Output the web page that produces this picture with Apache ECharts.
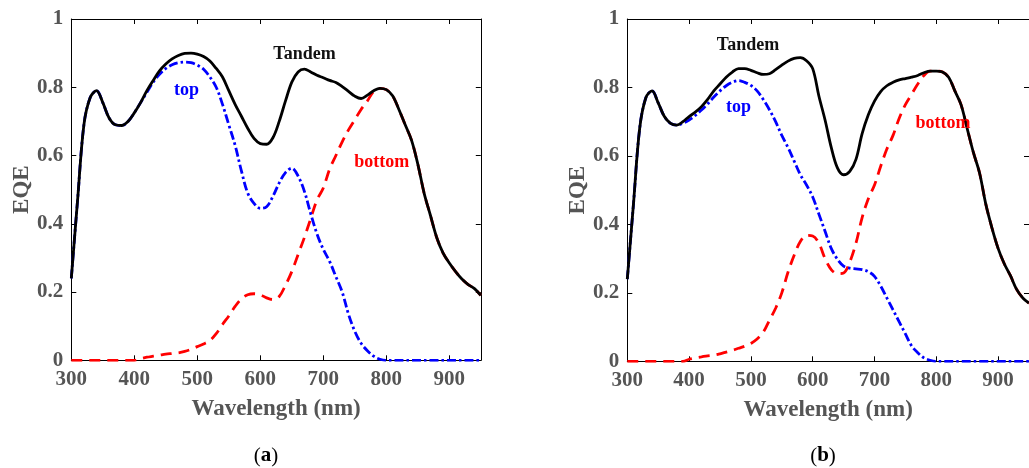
<!DOCTYPE html>
<html>
<head>
<meta charset="utf-8">
<script src="https://cdn.jsdelivr.net/npm/echarts@6/dist/echarts.min.js"></script>
<style>
  html, body { margin: 0; padding: 0; background: #fff; }
  #chart { width: 1029px; height: 468px; }
</style>
</head>
<body>
<div id="chart"></div>
<script>
// Wavelength grid (nm)
const wavelength = [300,310,320,330,340,350,360,370,380,390,400,410,420,430,440,450,460,470,480,490,
  500,510,520,530,540,550,560,570,580,590,600,610,620,630,640,650,660,670,680,690,
  700,710,720,730,740,750,760,770,780,790,800,810,820,830,840,850,860,870,880,890,
  900,910,920,930,940,950];

// Panel (a): EQE of tandem, top and bottom cells
const tandemA = [0.24,0.47,0.69,0.77,0.79,0.755,0.71,0.69,0.688,0.70,
  0.725,0.755,0.79,0.82,0.848,0.868,0.883,0.893,0.899,0.90,
  0.897,0.89,0.877,0.855,0.83,0.79,0.75,0.715,0.68,0.65,
  0.635,0.633,0.652,0.70,0.76,0.815,0.845,0.853,0.845,0.835,
  0.828,0.82,0.814,0.802,0.788,0.774,0.767,0.777,0.79,0.797,
  0.793,0.775,0.735,0.69,0.645,0.575,0.49,0.425,0.36,0.315,
  0.285,0.26,0.238,0.222,0.21,0.19];
const topA = [0.24,0.47,0.69,0.77,0.79,0.755,0.71,0.69,0.688,0.70,
  0.725,0.755,0.785,0.815,0.838,0.855,0.866,0.872,0.874,0.872,
  0.865,0.853,0.83,0.80,0.75,0.69,0.63,0.555,0.49,0.46,
  0.445,0.45,0.48,0.52,0.55,0.563,0.54,0.495,0.43,0.37,
  0.325,0.29,0.245,0.20,0.135,0.085,0.05,0.028,0.012,0.003,
  0,0,0,0,0,0,0,0,0,0,
  0,0,0,0,0,0];
const bottomA = [0,0,0,0,0,0,0,0,0,0,
  0,0.005,0.009,0.012,0.015,0.018,0.02,0.022,0.026,0.032,
  0.04,0.048,0.058,0.078,0.105,0.13,0.158,0.18,0.192,0.195,
  0.192,0.183,0.178,0.187,0.22,0.26,0.31,0.36,0.415,0.47,
  0.505,0.56,0.60,0.64,0.675,0.705,0.735,0.76,0.788,0.797,
  0.793,0.775,0.735,0.69,0.645,0.575,0.49,0.425,0.36,0.315,
  0.285,0.26,0.238,0.222,0.21,0.19];

// Panel (b)
const tandemB = [0.24,0.46,0.68,0.77,0.79,0.755,0.715,0.695,0.69,0.70,
  0.715,0.728,0.744,0.765,0.79,0.81,0.83,0.845,0.855,0.855,
  0.85,0.843,0.838,0.84,0.852,0.865,0.877,0.885,0.887,0.878,
  0.855,0.775,0.705,0.625,0.565,0.545,0.555,0.59,0.665,0.72,
  0.76,0.788,0.805,0.815,0.822,0.826,0.83,0.835,0.843,0.848,
  0.848,0.845,0.83,0.79,0.75,0.68,0.61,0.55,0.46,0.39,
  0.33,0.285,0.25,0.21,0.185,0.17];
const topB = [0.24,0.46,0.68,0.77,0.79,0.755,0.715,0.695,0.69,0.695,
  0.705,0.718,0.734,0.752,0.772,0.79,0.805,0.815,0.82,0.815,
  0.806,0.79,0.765,0.735,0.70,0.66,0.625,0.585,0.545,0.515,
  0.48,0.43,0.38,0.33,0.298,0.278,0.272,0.27,0.268,0.262,
  0.248,0.22,0.185,0.15,0.115,0.08,0.045,0.025,0.01,0.003,
  0,0,0,0,0,0,0,0,0,0,
  0,0,0,0,0,0];
const bottomB = [0,0,0,0,0,0,0,0,0,0,
  0.006,0.01,0.013,0.016,0.018,0.022,0.027,0.032,0.038,0.044,
  0.052,0.065,0.085,0.12,0.155,0.20,0.26,0.31,0.35,0.368,
  0.366,0.345,0.30,0.268,0.256,0.258,0.29,0.345,0.42,0.475,
  0.515,0.57,0.62,0.66,0.71,0.75,0.78,0.81,0.835,0.848,
  0.848,0.845,0.83,0.79,0.75,0.68,0.61,0.55,0.46,0.39,
  0.33,0.285,0.25,0.21,0.185,0.17];

const xTicks = { min: 300, max: 950, interval: 100 };
const yTicks = { min: 0, max: 1, interval: 0.2 };

const SERIF = '"Liberation Serif", "Times New Roman", serif';
const GRAY = '#555555';

function pairs(ys) { return wavelength.map((x, i) => [x, ys[i]]); }

const grids = [
  { left: 71.3, top: 19, width: 409.5, height: 341.3 },
  { left: 627.3, top: 19, width: 411.5, height: 342.3 }
];

const xAxes = [], yAxes = [], series = [];
grids.forEach((g, gi) => {
  const tick = { show: true, inside: true, length: 5, lineStyle: { color: '#000', width: 1 } };
  const line = { show: true, onZero: false, lineStyle: { color: '#000', width: 1 } };
  xAxes.push({
    type: 'value', gridIndex: gi, position: 'bottom',
    min: xTicks.min, max: xTicks.max, interval: xTicks.interval,
    axisLine: line, axisTick: tick, splitLine: { show: false },
    axisLabel: { show: true, showMaxLabel: false, margin: 9, color: GRAY,
      fontFamily: SERIF, fontWeight: 'bold', fontSize: 21 },
    name: 'Wavelength (nm)', nameLocation: 'middle', nameGap: 37,
    nameTextStyle: { color: GRAY, fontFamily: SERIF, fontWeight: 'bold', fontSize: 23 }
  });
  xAxes.push({
    type: 'value', gridIndex: gi, position: 'top',
    min: xTicks.min, max: xTicks.max, interval: xTicks.interval,
    axisLine: line, axisTick: tick, axisLabel: { show: false }, splitLine: { show: false }
  });
  yAxes.push({
    type: 'value', gridIndex: gi, position: 'left',
    min: yTicks.min, max: yTicks.max, interval: yTicks.interval,
    axisLine: line, axisTick: tick, splitLine: { show: false },
    axisLabel: { show: true, margin: 8, color: GRAY,
      fontFamily: SERIF, fontWeight: 'bold', fontSize: 21 },
    name: 'EQE', nameLocation: 'middle', nameGap: 38, nameRotate: 90,
    nameTextStyle: { color: GRAY, fontFamily: SERIF, fontWeight: 'bold', fontSize: 23 }
  });
  yAxes.push({
    type: 'value', gridIndex: gi, position: 'right',
    min: yTicks.min, max: yTicks.max, interval: yTicks.interval,
    axisLine: line, axisTick: tick, axisLabel: { show: false }, splitLine: { show: false }
  });
});

const panels = [
  { tandem: tandemA, top: topA, bottom: bottomA },
  { tandem: tandemB, top: topB, bottom: bottomB }
];
panels.forEach((p, gi) => {
  const common = { type: 'line', xAxisIndex: gi * 2, yAxisIndex: gi * 2,
    showSymbol: false, smooth: 0.35, silent: true };
  series.push(Object.assign({}, common, { name: 'bottom', data: pairs(p.bottom), z: 2,
    lineStyle: { color: '#ff0000', width: 2.8, type: [11, 7] } }));
  series.push(Object.assign({}, common, { name: 'top', data: pairs(p.top), z: 3,
    lineStyle: { color: '#0000ff', width: 2.8, type: [9, 3, 2.5, 3] } }));
  series.push(Object.assign({}, common, { name: 'Tandem', data: pairs(p.tandem), z: 4,
    lineStyle: { color: '#000000', width: 2.8 } }));
});

function label(text, x, y, color) {
  return { type: 'text', x: x, y: y, z: 10,
    style: { text: text, fill: color, font: 'bold 18px ' + SERIF,
      textAlign: 'center', textVerticalAlign: 'middle' } };
}
function caption(letter, x, y) {
  return { type: 'text', x: x, y: y, z: 10,
    style: { text: '(' + '{b|' + letter + '})', fill: '#000',
      font: '21px ' + SERIF, textAlign: 'center', textVerticalAlign: 'middle',
      rich: { b: { fontWeight: 'bold', fontSize: 21, fontFamily: SERIF, fill: '#000' } } } };
}

const chart = echarts.init(document.getElementById('chart'), null, { renderer: 'canvas' });
chart.setOption({
  animation: false,
  backgroundColor: '#ffffff',
  grid: grids,
  xAxis: xAxes,
  yAxis: yAxes,
  series: series,
  graphic: [
    label('Tandem', 304.5, 54, '#111'),
    label('top', 186.5, 90, '#0000ff'),
    label('bottom', 381.7, 162, '#ff0000'),
    label('Tandem', 748, 45, '#111'),
    label('top', 738.5, 107, '#0000ff'),
    label('bottom', 943, 123, '#ff0000'),
    caption('a', 266, 456),
    caption('b', 823, 456)
  ]
});
</script>
</body>
</html>
